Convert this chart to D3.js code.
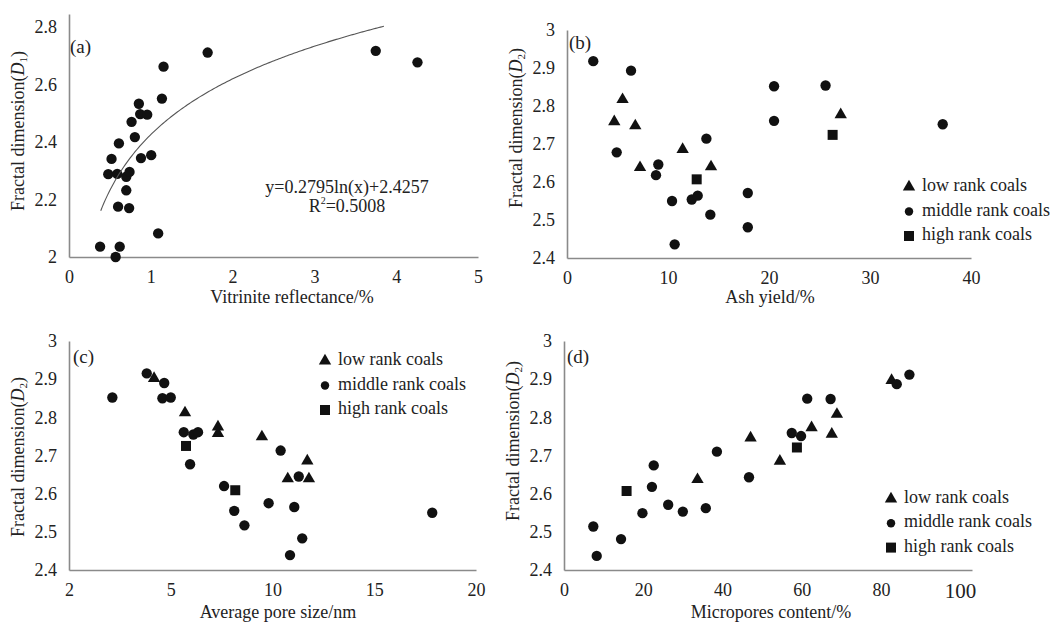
<!DOCTYPE html>
<html>
<head>
<meta charset="utf-8">
<script src="https://cdn.jsdelivr.net/npm/d3@7"></script>
<style>
  body { margin: 0; background: #fff; }
</style>
</head>
<body>
<svg id="chart" width="1052" height="623"></svg>
<script>
// ---- (a) vitrinite reflectance vs D1 ----
var aPoints = [
  [0.38, 2.036], [0.57, 2.00], [0.62, 2.036], [1.09, 2.082], [0.60, 2.175],
  [0.735, 2.17], [0.70, 2.232], [0.70, 2.279], [0.74, 2.296], [0.48, 2.288],
  [0.59, 2.289], [0.52, 2.341], [0.61, 2.395], [0.88, 2.344], [1.005, 2.354],
  [0.805, 2.417], [0.765, 2.47], [0.87, 2.497], [0.956, 2.495], [0.854, 2.533],
  [1.136, 2.551], [1.156, 2.662], [1.695, 2.711], [3.75, 2.717], [4.26, 2.677]
];
var aFit = { a: 0.2795, b: 2.4257, from: 0.388, to: 3.85 };
var aXTicks = [0, 1, 2, 3, 4, 5];
var aYTicks = [2, 2.2, 2.4, 2.6, 2.8];

// ---- (b) ash yield vs D2 ----
var bLow = [[5.5, 2.817], [4.68, 2.759], [6.76, 2.748], [7.23, 2.638], [11.45, 2.686], [14.26, 2.64], [27.1, 2.777]];
var bMiddle = [
  [2.6, 2.918], [6.34, 2.893], [4.92, 2.678], [9.04, 2.646], [8.81, 2.618], [10.4, 2.55],
  [10.66, 2.436], [12.35, 2.554], [12.94, 2.564], [13.8, 2.714], [14.19, 2.514], [17.9, 2.571],
  [17.9, 2.481], [20.5, 2.852], [20.5, 2.761], [25.6, 2.854], [37.2, 2.752]
];
var bHigh = [[12.84, 2.607], [26.3, 2.724]];
var bXTicks = [0, 10, 20, 30, 40];

// ---- (c) average pore size vs D2 ----
var cLow = [[4.18, 2.902], [5.7, 2.812], [7.32, 2.775], [7.32, 2.758], [9.48, 2.749], [11.71, 2.686], [10.75, 2.639], [11.79, 2.639]];
var cMiddle = [
  [2.13, 2.852], [3.82, 2.915], [4.68, 2.89], [4.59, 2.85], [5.0, 2.852], [5.64, 2.761],
  [6.11, 2.755], [6.34, 2.761], [5.95, 2.677], [7.62, 2.62], [8.12, 2.555], [8.62, 2.517],
  [10.4, 2.713], [9.81, 2.575], [11.29, 2.645], [11.07, 2.565], [11.46, 2.483], [10.86, 2.439],
  [17.85, 2.55]
];
var cHigh = [[5.75, 2.725], [8.17, 2.609]];
var cXTicks = [0, 5, 10, 15, 20];
var cXTickLabels = ["2", "5", "10", "15", "20"];

// ---- (d) micropores content vs D2 ----
var dLow = [[33.7, 2.637], [47.1, 2.746], [54.5, 2.685], [62.5, 2.773], [67.6, 2.756], [68.9, 2.808], [82.7, 2.897]];
var dMiddle = [
  [7.4, 2.514], [8.26, 2.437], [14.4, 2.481], [19.8, 2.549], [22.2, 2.618], [22.65, 2.674],
  [26.3, 2.571], [30.0, 2.553], [35.8, 2.562], [38.6, 2.71], [46.7, 2.643], [61.4, 2.849],
  [67.3, 2.848], [57.5, 2.759], [59.85, 2.751], [84.0, 2.887], [87.2, 2.912]
];
var dHigh = [[15.8, 2.607], [58.8, 2.721]];
var dXTicks = [0, 20, 40, 60, 80, 100];

var d2YTicks = [2.4, 2.5, 2.6, 2.7, 2.8, 2.9, 3];
var legendNames = ["low rank coals", "middle rank coals", "high rank coals"];

var FONT = "'Liberation Serif', 'DejaVu Serif', serif";
var svg = d3.select("#chart").style("font-family", FONT);
var axisColor = "#8a8a8a";
var shapes = {
  low: d3.symbol().type(d3.symbolTriangle).size(66),
  middle: d3.symbol().type(d3.symbolCircle).size(84),
  high: d3.symbol().type(d3.symbolSquare).size(100)
};

function label(sel, size) {
  return sel.style("font-family", FONT).style("font-size", size + "px").attr("fill", "#222");
}

function panel(cfg) {
  var x = d3.scaleLinear().domain(cfg.xDomain).range(cfg.xRange);
  var y = d3.scaleLinear().domain(cfg.yDomain).range(cfg.yRange);
  var g = svg.append("g");

  var xAxis = d3.axisBottom(x).tickValues(cfg.xTicks).tickSize(0).tickPadding(13)
    .tickFormat(cfg.xLabels ? (d, i) => cfg.xLabels[i] : d3.format(""));
  var gx = g.append("g")
    .attr("transform", `translate(0, ${cfg.yRange[0]})`)
    .call(xAxis)
    .attr("font-family", null).attr("font-size", null);
  label(gx.selectAll("text"), 18);
  if (cfg.bigLast) gx.selectAll("text").filter(d => d == cfg.bigLast).style("font-size", "21px");

  var gy = g.append("g")
    .attr("transform", `translate(${cfg.xRange[0]}, 0)`)
    .call(d3.axisLeft(y).tickValues(cfg.yTicks).tickSize(0).tickPadding(12).tickFormat(d3.format("")))
    .attr("font-family", null).attr("font-size", null);
  label(gy.selectAll("text"), 18);

  g.selectAll(".domain").attr("stroke", axisColor).attr("stroke-width", 1.6);

  // titles
  label(g.append("text"), 18)
    .attr("x", cfg.xTitle[1]).attr("y", cfg.xTitle[2])
    .attr("text-anchor", "middle").attr("dominant-baseline", "middle")
    .text(cfg.xTitle[0]);

  var yt = label(g.append("text"), 18)
    .attr("transform", `translate(${cfg.yTitle[0]}, ${cfg.yTitle[1]}) rotate(-90)`)
    .attr("text-anchor", "middle").attr("dominant-baseline", "middle");
  yt.append("tspan").text("Fractal dimension(");
  yt.append("tspan").style("font-style", "italic").text("D");
  yt.append("tspan").attr("dy", 4).style("font-size", "11px").text(cfg.sub);
  yt.append("tspan").attr("dy", -4).text(")");

  label(g.append("text"), 19)
    .attr("x", cfg.tag[1]).attr("y", cfg.tag[2])
    .attr("dominant-baseline", "middle")
    .text(cfg.tag[0]);

  // points
  cfg.series.forEach(s => {
    g.selectAll(null)
      .data(s.data)
      .enter().append("path")
      .attr("d", shapes[s.shape])
      .attr("transform", d => `translate(${x(d[0])}, ${y(d[1])})`)
      .attr("fill", "#111");
  });

  // legend
  if (cfg.legend) {
    var lg = g.append("g");
    ["low", "middle", "high"].forEach((k, i) => {
      var ly = cfg.legend.y + i * cfg.legend.step;
      var sym = k == "middle" ? d3.symbol().type(d3.symbolCircle).size(56) : shapes[k];
      lg.append("path").attr("d", sym)
        .attr("transform", `translate(${cfg.legend.x}, ${ly})`)
        .attr("fill", "#111");
      label(lg.append("text"), 18)
        .attr("x", cfg.legend.x + 13).attr("y", ly)
        .attr("dominant-baseline", "middle")
        .text(legendNames[i]);
    });
  }
  return { x: x, y: y, g: g };
}

// (a)
var pa = panel({
  xDomain: [0, 5], xRange: [69, 478], yDomain: [2, 2.845], yRange: [257, 14],
  xTicks: aXTicks, yTicks: aYTicks,
  xTitle: ["Vitrinite reflectance/%", 292, 299], yTitle: [20, 131], sub: "1",
  tag: ["(a)", 70, 49],
  series: [{ data: aPoints, shape: "middle" }]
});
var fitLine = d3.line()
  .x(d => pa.x(d))
  .y(d => pa.y(aFit.a * Math.log(d) + aFit.b));
pa.g.append("path")
  .datum(d3.range(aFit.from, aFit.to, 0.02).concat([aFit.to]))
  .attr("d", fitLine)
  .attr("fill", "none").attr("stroke", "#555").attr("stroke-width", 1.1);
label(pa.g.append("text"), 18).attr("x", 347).attr("y", 189)
  .attr("text-anchor", "middle").attr("dominant-baseline", "middle")
  .text("y=0.2795ln(x)+2.4257");
var r2 = label(pa.g.append("text"), 18).attr("x", 347).attr("y", 208)
  .attr("text-anchor", "middle").attr("dominant-baseline", "middle");
r2.append("tspan").text("R");
r2.append("tspan").attr("dy", -6).style("font-size", "10px").text("2");
r2.append("tspan").attr("dy", 6).text("=0.5008");

// (b)
panel({
  xDomain: [0, 40], xRange: [567, 971], yDomain: [2.4, 3], yRange: [258, 30],
  xTicks: bXTicks, yTicks: d2YTicks,
  xTitle: ["Ash yield/%", 770, 299], yTitle: [518, 128], sub: "2",
  tag: ["(b)", 569, 45],
  series: [{ data: bLow, shape: "low" }, { data: bMiddle, shape: "middle" }, { data: bHigh, shape: "high" }],
  legend: { x: 909, y: 187, step: 24.5 }
});

// (c)
panel({
  xDomain: [0, 20], xRange: [69, 476], yDomain: [2.4, 3], yRange: [570, 341],
  xTicks: cXTicks, xLabels: cXTickLabels, yTicks: d2YTicks,
  xTitle: ["Average pore size/nm", 278, 614], yTitle: [20, 457], sub: "2",
  tag: ["(c)", 73, 359],
  series: [{ data: cLow, shape: "low" }, { data: cMiddle, shape: "middle" }, { data: cHigh, shape: "high" }],
  legend: { x: 325, y: 361, step: 24.5 }
});

// (d)
panel({
  xDomain: [0, 103], xRange: [564, 972], yDomain: [2.4, 3], yRange: [570, 341],
  xTicks: dXTicks, yTicks: d2YTicks, bigLast: 100,
  xTitle: ["Micropores content/%", 771, 614], yTitle: [515, 441], sub: "2",
  tag: ["(d)", 567, 359],
  series: [{ data: dLow, shape: "low" }, { data: dMiddle, shape: "middle" }, { data: dHigh, shape: "high" }],
  legend: { x: 891, y: 499, step: 24.3 }
});
</script>
</body>
</html>
